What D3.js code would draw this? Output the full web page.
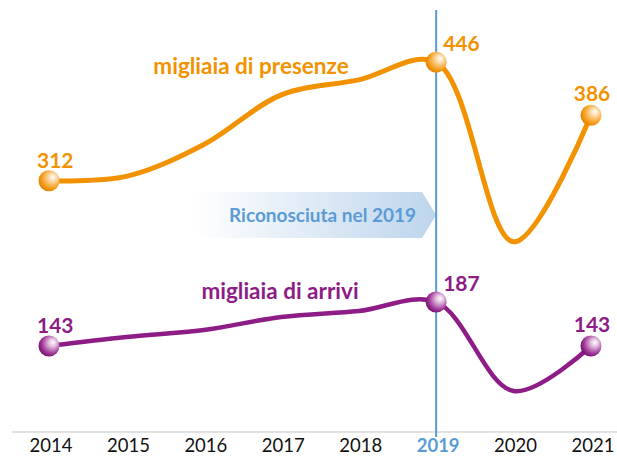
<!DOCTYPE html>
<html>
<head>
<meta charset="utf-8">
<title>Presenze e arrivi 2014-2021</title>
<script src="https://d3js.org/d3.v7.min.js"></script>
<style>
  body { margin: 0; background: #fff; }
  text { font-family: Lato, "Open Sans", sans-serif; }
  .tick-label { font-size: 18.5px; fill: #111; }
  .val { font-size: 21px; font-weight: bold; }
  .name { font-size: 22.5px; font-weight: bold; }
</style>
</head>
<body>
<script>
// data (thousands)
var years = ["2014", "2015", "2016", "2017", "2018", "2019", "2020", "2021"];
var presenze = [312, 317, 353, 409, 426, 446, 243, 386];
var arrivi = [143, 152, 159, 172, 178, 187, 98, 143];
var labelled = ["2014", "2019", "2021"];
var highlightYear = "2019";

var width = 617, height = 456;
var margin = {top: 10, right: 26, bottom: 24, left: 49};
var orange = "#f39200", purple = "#8d1c86", blue = "#5b9bd5";

var svg = d3.select("body").append("svg")
    .attr("width", width)
    .attr("height", height);

var x = d3.scalePoint().domain(years).range([margin.left, width - margin.right]);
// the two series sit on separate value axes
var yP = d3.scaleLinear().domain([28, 505]).range([height - margin.bottom, margin.top]);
var yA = d3.scaleLinear().domain([57, 479]).range([height - margin.bottom, margin.top]);

var defs = svg.append("defs");
function ball(id, light, mid, dark) {
  var g = defs.append("radialGradient").attr("id", id)
      .attr("cx", "0.62").attr("cy", "0.4").attr("r", "0.62")
      .attr("fx", "0.7").attr("fy", "0.32");
  g.append("stop").attr("offset", "0%").attr("stop-color", "#ffffff");
  g.append("stop").attr("offset", "30%").attr("stop-color", light);
  g.append("stop").attr("offset", "75%").attr("stop-color", mid);
  g.append("stop").attr("offset", "100%").attr("stop-color", dark);
}
ball("ballO", "#fcd9a8", "#f5a020", "#e58400");
ball("ballP", "#e4bde0", "#a13d9a", "#7a1274");

var band = defs.append("linearGradient").attr("id", "band");
band.append("stop").attr("offset", "0%").attr("stop-color", "#ffffff");
band.append("stop").attr("offset", "100%").attr("stop-color", "#bdd5ec");

// axis baseline
var axisY = height - margin.bottom;
svg.append("line")
    .attr("x1", 12).attr("x2", width)
    .attr("y1", axisY).attr("y2", axisY)
    .attr("stroke", "#d9d9d9").attr("stroke-width", 1.5);

svg.selectAll(".tick-label")
    .data(years)
    .enter().append("text")
    .attr("class", "tick-label")
    .attr("x", function(d) { return x(d) + 2; })
    .attr("y", height - 4)
    .attr("text-anchor", "middle")
    .style("font-weight", function(d) { return d == highlightYear ? "bold" : "normal"; })
    .style("fill", function(d) { return d == highlightYear ? blue : "#111"; })
    .text(function(d) { return d; });

// banner arrow
var tip = x(highlightYear);
svg.append("path")
    .attr("d", "M195,192 L" + (tip - 14) + ",192 L" + tip + ",215 L" + (tip - 14) + ",238 L195,238 Z")
    .attr("fill", "url(#band)");
svg.append("text")
    .attr("x", tip - 20).attr("y", 222)
    .attr("text-anchor", "end")
    .style("font-size", "19px").style("font-weight", "bold")
    .style("fill", blue)
    .text("Riconosciuta nel 2019");

// vertical marker for 2019
svg.append("line")
    .attr("x1", tip).attr("x2", tip)
    .attr("y1", margin.top).attr("y2", axisY + 5)
    .attr("stroke", blue).attr("stroke-width", 2);

function series(values, y, color, grad, sw) {
  var pts = years.map(function(d, i) { return {year: d, v: values[i]}; });
  var line = d3.line()
      .x(function(d) { return x(d.year); })
      .y(function(d) { return y(d.v); })
      .curve(d3.curveCatmullRom.alpha(0.5));
  svg.append("path")
      .datum(pts)
      .attr("d", line)
      .attr("fill", "none")
      .attr("stroke", color)
      .attr("stroke-width", sw)
      .attr("stroke-linecap", "round");
  var lab = pts.filter(function(d) { return labelled.indexOf(d.year) >= 0; });
  svg.selectAll(".m" + grad)
      .data(lab)
      .enter().append("circle")
      .attr("cx", function(d) { return x(d.year); })
      .attr("cy", function(d) { return y(d.v); })
      .attr("r", 10.5)
      .attr("fill", "url(#" + grad + ")");
  svg.selectAll(".v" + grad)
      .data(lab)
      .enter().append("text")
      .attr("class", "val")
      .attr("x", function(d, i) { return x(d.year) + [-12, 7, 1][i]; })
      .attr("y", function(d, i) { return y(d.v) - [13, 11, 14][i]; })
      .attr("text-anchor", function(d, i) { return i == 2 ? "middle" : "start"; })
      .style("fill", color)
      .text(function(d) { return d.v; });
}

series(presenze, yP, orange, "ballO", 5);
series(arrivi, yA, purple, "ballP", 4.5);

svg.append("text").attr("class", "name")
    .attr("x", 251).attr("y", 74)
    .attr("text-anchor", "middle")
    .style("fill", orange)
    .text("migliaia di presenze");
svg.append("text").attr("class", "name")
    .attr("x", 280).attr("y", 299)
    .attr("text-anchor", "middle")
    .style("fill", purple)
    .text("migliaia di arrivi");
</script>
</body>
</html>
